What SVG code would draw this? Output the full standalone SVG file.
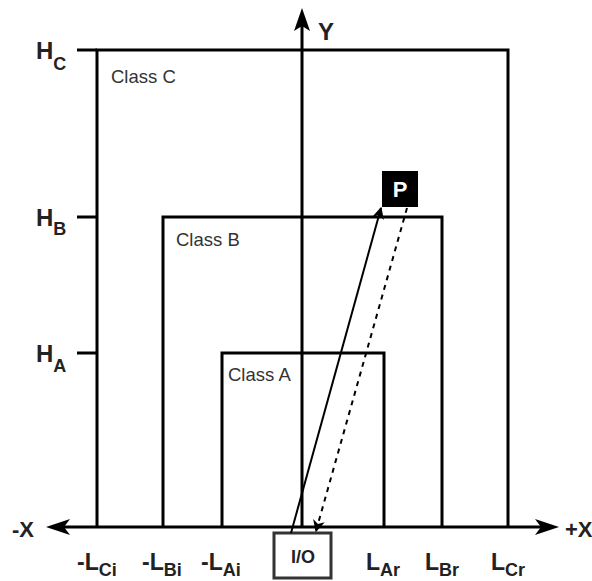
<svg xmlns="http://www.w3.org/2000/svg" width="592" height="581" viewBox="0 0 592 581">
<style>
.box{fill:none;stroke:#000;stroke-width:3}
.lbl{font-family:"Liberation Sans",Arial,sans-serif;font-weight:bold;fill:#222}
.cls{font-family:"Liberation Sans",Arial,sans-serif;font-size:18.5px;fill:#333}
.ax{stroke:#000;stroke-width:3;fill:none}
</style>
<defs>
<marker id="ah" viewBox="0 0 10 10" refX="9" refY="5" markerWidth="6" markerHeight="6" orient="auto" markerUnits="strokeWidth"><path d="M0,0 L10,5 L0,10 L3,5 z" fill="#000"/></marker>
</defs>
<rect width="592" height="581" fill="#fff"/>
<g id="classC">
<path class="box" d="M97,527 V50 H508 V527"/>
<line class="ax" x1="77" y1="50" x2="97" y2="50"/>
<text class="cls" x="111" y="83">Class C</text>
</g>
<g id="classB">
<path class="box" d="M163,527 V217 H442 V527"/>
<line class="ax" x1="77" y1="217" x2="97" y2="217"/>
<text class="cls" x="176" y="246">Class B</text>
</g>
<g id="classA">
<path class="box" d="M222,527 V353 H384 V527"/>
<line class="ax" x1="77" y1="353" x2="97" y2="353"/>
<text class="cls" x="228" y="381">Class A</text>
</g>
<g id="axes">
<line class="ax" x1="302" y1="527" x2="302" y2="24"/>
<line class="ax" x1="60" y1="527" x2="547" y2="527"/>
<path d="M46,527 L70,519 L64,527 L70,535 z" fill="#000"/>
<path d="M559,527 L535,519 L541,527 L535,535 z" fill="#000"/>
<path d="M302,8 L294,31 L302,26 L310,31 z" fill="#000"/>
<text class="lbl" x="318" y="40" font-size="24">Y</text>
<text class="lbl" x="12" y="537" font-size="22">-X</text>
<text class="lbl" x="565" y="537" font-size="22">+X</text>
</g>
<g id="hlabels">
<text class="lbl" x="36" y="59" font-size="24">H<tspan font-size="18" dy="11">C</tspan></text>
<text class="lbl" x="36" y="226" font-size="24">H<tspan font-size="18" dy="9">B</tspan></text>
<text class="lbl" x="36" y="362" font-size="24">H<tspan font-size="18" dy="10">A</tspan></text>
</g>
<g id="llabels">
<text class="lbl" x="77" y="570" font-size="23">-L<tspan font-size="18" dy="6">Ci</tspan></text>
<text class="lbl" x="142" y="570" font-size="23">-L<tspan font-size="18" dy="6">Bi</tspan></text>
<text class="lbl" x="201" y="570" font-size="23">-L<tspan font-size="18" dy="6">Ai</tspan></text>
<text class="lbl" x="366" y="570" font-size="23">L<tspan font-size="18" dy="6">Ar</tspan></text>
<text class="lbl" x="425" y="570" font-size="23">L<tspan font-size="18" dy="6">Br</tspan></text>
<text class="lbl" x="491" y="570" font-size="23">L<tspan font-size="18" dy="6">Cr</tspan></text>
</g>
<g id="io">
<rect x="274" y="533" width="57" height="45" fill="#fff" stroke="#333" stroke-width="3"/>
<text class="lbl" x="303" y="563" font-size="18" text-anchor="middle">I/O</text>
</g>
<g id="p">
<rect x="382" y="171" width="36" height="36" fill="#000"/>
<text x="400" y="197" font-family="'Liberation Sans',Arial,sans-serif" font-weight="bold" font-size="22" fill="#fff" text-anchor="middle">P</text>
</g>
<g id="connectors">
<line x1="291" y1="533" x2="381" y2="208" stroke="#000" stroke-width="2" marker-end="url(#ah)"/>
<line x1="407" y1="208" x2="316" y2="531" stroke="#000" stroke-width="2" stroke-dasharray="5,5" marker-end="url(#ah)"/>
</g>
</svg>
